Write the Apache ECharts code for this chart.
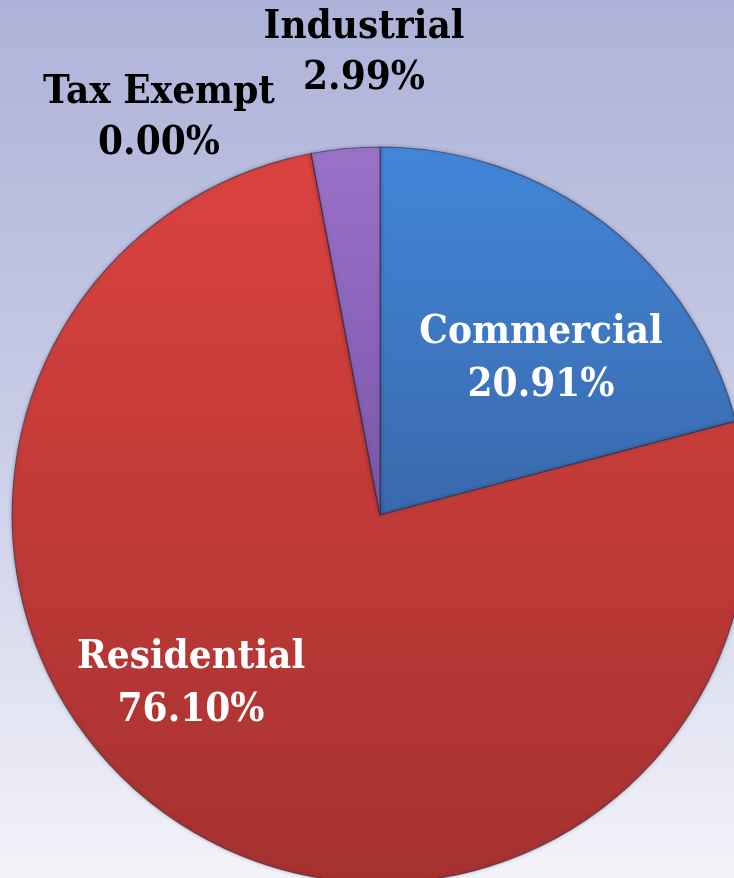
<!DOCTYPE html>
<html>
<head>
<meta charset="utf-8">
<script src="https://cdn.jsdelivr.net/npm/echarts@6/dist/echarts.min.js"></script>
<style>
  html, body { margin: 0; padding: 0; width: 734px; height: 878px; overflow: hidden; }
  #chart { width: 734px; height: 878px; }
</style>
</head>
<body>
<div id="chart"></div>
<script>
// Data
const categories = ['Commercial', 'Residential', 'Tax Exempt', 'Industrial'];
const values = [20.91, 76.10, 0.00, 2.99];

// Styles (kept separate from data)
const sliceGradients = [
  ['#4286d8', '#3a69ac'],
  ['#db433f', '#a53130'],
  ['#8a66bb', '#7b56a8'],
  ['#9a72c8', '#7a56a8']
];
const labelColors = ['#ffffff', '#ffffff', '#000000', '#000000'];
const labelFontSizes = [40, 40, 40, 40];
const labelLineHeights = [53, 53, 51, 51];
// label centers as [x, y] in pixels
const labelCenters = [[541, 359], [191, 684], [159, 118], [364, 53]];

const chart = echarts.init(document.getElementById('chart'));

const data = categories.map((name, i) => ({
  name: name,
  value: values[i],
  itemStyle: {
    color: {
      type: 'linear', x: 0, y: 0, x2: 0, y2: 1,
      colorStops: [
        { offset: 0, color: sliceGradients[i][0] },
        { offset: 1, color: sliceGradients[i][1] }
      ]
    }
  },
  label: {
    color: labelColors[i],
    fontSize: labelFontSizes[i],
    lineHeight: labelLineHeights[i]
  }
}));

chart.setOption({
  backgroundColor: {
    type: 'linear', x: 0, y: 0, x2: 0, y2: 1,
    colorStops: [
      { offset: 0, color: '#adb2d8' },
      { offset: 0.5, color: '#c9cde7' },
      { offset: 1, color: '#f3f3f9' }
    ]
  },
  animation: false,
  series: [{
    type: 'pie',
    center: [380, 515],
    radius: 368,
    startAngle: 90,
    clockwise: true,
    avoidLabelOverlap: false,
    stillShowZeroSum: true,
    minShowLabelAngle: 0,
    itemStyle: {
      borderColor: 'rgba(40,40,70,0.55)',
      borderWidth: 1.2,
      shadowColor: 'rgba(0,0,0,0.25)',
      shadowBlur: 4
    },
    label: {
      show: true,
      position: 'inside',
      fontFamily: '"DejaVu Serif Condensed", "DejaVu Serif", serif',
      fontWeight: 'bold',
      align: 'center',
      formatter: p => p.name + '\n' + Number(p.value).toFixed(2) + '%'
    },
    labelLine: { show: false },
    emphasis: { disabled: true },
    labelLayout: function (params) {
      const c = labelCenters[params.dataIndex];
      return { x: c[0], y: c[1], align: 'center', verticalAlign: 'middle' };
    },
    data: data
  }]
});
</script>
</body>
</html>
